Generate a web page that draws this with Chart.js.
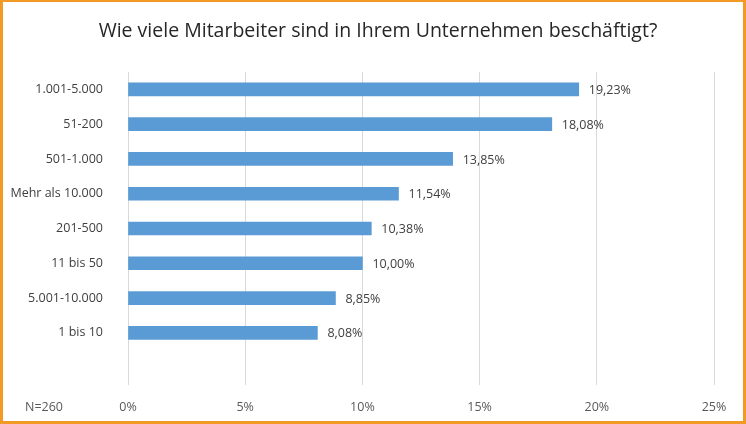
<!DOCTYPE html>
<html>
<head>
<meta charset="utf-8">
<script src="https://cdn.jsdelivr.net/npm/chart.js@4.4.0/dist/chart.umd.min.js"></script>
<style>
  html, body { margin: 0; padding: 0; background: #fff; }
  #wrap { position: relative; width: 746px; height: 424px; }
  #frame {
    position: absolute; left: 0; top: 0; width: 746px; height: 424px;
    box-sizing: border-box; border: 3px solid #F39A26; border-top-width: 2px;
    pointer-events: none;
  }
</style>
</head>
<body>
<div id="wrap">
  <canvas id="chart" width="746" height="424"></canvas>
  <div id="frame"></div>
</div>
<script>
// chart data
const titleText = 'Wie viele Mitarbeiter sind in Ihrem Unternehmen beschäftigt?';
const noteText = 'N=260';
const categories = ['1.001-5.000', '51-200', '501-1.000', 'Mehr als 10.000', '201-500', '11 bis 50', '5.001-10.000', '1 bis 10', ''];
const shares = [19.23, 18.08, 13.85, 11.54, 10.38, 10.00, 8.85, 8.08, null];
const xTicks = [0, 5, 10, 15, 20, 25];

const fontFam = '"Open Sans", sans-serif';

// value labels, title and the N note
const extras = {
    id: 'extras',
    afterDatasetsDraw(chart) {
        const ctx = chart.ctx;
        const meta = chart.getDatasetMeta(0);
        ctx.save();
        ctx.font = '12.5px ' + fontFam;
        ctx.fillStyle = '#404040';
        ctx.textAlign = 'left';
        ctx.textBaseline = 'middle';
        meta.data.forEach((bar, i) => {
            if (shares[i] == null) return;
            const txt = shares[i].toFixed(2).replace('.', ',') + '%';
            ctx.fillText(txt, bar.x + 10, bar.y + 1);
        });
        ctx.restore();
    },
    afterDraw(chart) {
        const ctx = chart.ctx;
        ctx.save();
        ctx.font = '19.5px ' + fontFam;
        ctx.fillStyle = '#262626';
        ctx.textAlign = 'center';
        ctx.textBaseline = 'middle';
        ctx.fillText(titleText, 378, 31);
        ctx.font = '12.5px ' + fontFam;
        ctx.fillStyle = '#595959';
        ctx.textAlign = 'left';
        ctx.fillText(noteText, 25, 407);
        ctx.restore();
    }
};

const ctx = document.getElementById('chart').getContext('2d');
new Chart(ctx, {
    type: 'bar',
    data: {
        labels: categories,
        datasets: [{
            data: shares,
            backgroundColor: '#5B9BD5',
            barThickness: 13
        }]
    },
    options: {
        indexAxis: 'y',
        responsive: false,
        animation: false,
        layout: { padding: { top: 72, right: 32, bottom: 0, left: 0 } },
        plugins: {
            legend: { display: false },
            tooltip: { enabled: false }
        },
        scales: {
            x: {
                min: 0,
                max: 25,
                afterBuildTicks(scale) {
                    scale.ticks = xTicks.map(v => ({ value: v }));
                },
                afterFit(scale) { scale.height = 39; },
                grid: { color: '#D9D9D9', drawTicks: false },
                border: { display: false },
                ticks: {
                    padding: 15,
                    color: '#595959',
                    font: { family: fontFam, size: 12.5 },
                    callback: v => v + '%'
                }
            },
            y: {
                afterFit(scale) { scale.width = 128; },
                grid: { display: false },
                border: { display: false },
                ticks: {
                    padding: 17,
                    color: '#404040',
                    font: { family: fontFam, size: 12.5 }
                }
            }
        }
    },
    plugins: [extras]
});
</script>
</body>
</html>
